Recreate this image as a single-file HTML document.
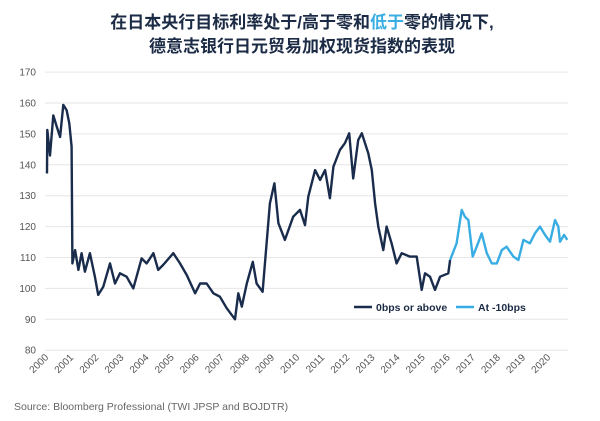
<!DOCTYPE html>
<html><head><meta charset="utf-8">
<style>
html,body{margin:0;padding:0;background:#fff;}
body{width:600px;height:416px;overflow:hidden;font-family:"Liberation Sans","Noto Sans CJK SC",sans-serif;}
</style></head>
<body>
<svg id="chart" width="600" height="416" xmlns="http://www.w3.org/2000/svg">
<g font-family="'Liberation Sans','Noto Sans CJK SC',sans-serif" font-size="17" font-weight="bold" fill="#1b2b45" text-anchor="middle">
<text x="302" y="28">在日本央行目标利率处于/高于零和<tspan fill="#3aaee2">低于</tspan>零的情况下,</text>
<text x="302" y="52">德意志银行日元贸易加权现货指数的表现</text>
</g>
<g id="grid"></g>
<g id="yticks"></g>
<g id="xticks"></g>
<g id="series"></g>
<g font-size="10.5" font-weight="bold" fill="#1b2b45">
<g><line x1="354" y1="307" x2="372" y2="307" stroke="#1a2c4c" stroke-width="2.5"/><text x="376" y="311">0bps or above</text></g>
<g><line x1="456" y1="307" x2="474" y2="307" stroke="#38ade3" stroke-width="2.5"/><text x="478" y="311">At -10bps</text></g>
</g>
<text x="14" y="410" font-size="10.5" fill="#666">Source: Bloomberg Professional (TWI JPSP and BOJDTR)</text>
</svg>
<script>
const yTicks=[80,90,100,110,120,130,140,150,160,170];
const years=[2000,2001,2002,2003,2004,2005,2006,2007,2008,2009,2010,2011,2012,2013,2014,2015,2016,2017,2018,2019,2020];
const darkT=[0,0.01,0.12,0.25,0.39,0.52,0.65,0.78,0.89,0.98,1.01,1.12,1.25,1.38,1.51,1.71,1.91,2.04,2.24,2.51,2.71,2.91,3.17,3.44,3.77,3.97,4.24,4.43,4.63,5.03,5.30,5.57,5.90,6.10,6.36,6.63,6.89,7.16,7.49,7.62,7.76,7.96,8.20,8.35,8.59,8.75,8.88,9.06,9.22,9.48,9.81,10.08,10.28,10.41,10.68,10.88,11.08,11.27,11.41,11.67,11.87,12.04,12.20,12.40,12.54,12.80,12.94,13.07,13.20,13.40,13.53,13.73,13.93,14.13,14.46,14.73,14.93,15.06,15.26,15.46,15.66,15.99,16.06];
const darkV=[137.2,151.3,143,156,152.3,149,159.4,157.7,153.4,145.9,108.1,112.4,106,111.4,105.4,111.4,103.8,97.9,100.5,108.1,101.6,104.9,103.8,100,109.7,108.1,111.4,106,107.6,111.4,108.1,104.3,98.4,101.6,101.6,98.4,97.3,93.6,90,98.4,94.1,101.6,108.6,101.6,98.9,114.6,127.5,134,121.1,115.7,123.2,125.4,120.5,129.7,138.3,135.1,138.3,129.2,139.4,144.8,147,150.2,135.6,148,150.2,143.7,138.3,127.5,120,112.4,120,114.6,108.1,111.4,110.3,110.3,99.5,104.9,103.8,99.5,103.8,104.9,109.2];
const lightT=[16.06,16.32,16.52,16.65,16.79,16.96,17.12,17.32,17.52,17.72,17.92,18.12,18.31,18.58,18.78,18.98,19.24,19.44,19.64,19.84,20.04,20.24,20.37,20.44,20.60,20.73];
const lightV=[109.2,114.6,125.4,123.2,122.1,110.3,113.5,117.8,111.4,108.1,108.1,112.4,113.5,110.3,109.2,115.7,114.6,117.8,120,117.3,115.1,122.1,120,115.1,117.3,115.7];
const NS='http://www.w3.org/2000/svg';
function X(t){return 47+t*25.1;}
function Y(v){return 319.3-(v-90)*3.09;}
function mk(tag,attrs,parent){const e=document.createElementNS(NS,tag);for(const k in attrs)e.setAttribute(k,attrs[k]);parent.appendChild(e);return e;}
const grid=document.getElementById('grid'),yt=document.getElementById('yticks'),xt=document.getElementById('xticks'),ser=document.getElementById('series');
yTicks.forEach(v=>{
  const l=mk('line',{x1:45,x2:568,y1:Y(v),y2:Y(v),stroke:'#e6e6e6','stroke-width':1},grid);
  
  
  const t=mk('text',{x:36,y:Y(v)+3.5,'text-anchor':'end','font-size':10,fill:'#555'},yt);
  t.textContent=v;
  
  
});
years.forEach(y=>{
  const x=X(y-2000);
  const t=mk('text',{x:x+2,y:358,'text-anchor':'end','font-size':10,fill:'#555',transform:'rotate(-45 '+(x+2)+' 358)'},xt);
  t.textContent=y;
  
  
});
function path(ts,vs,color,name){
  const d=ts.map((t,i)=>(i?'L':'M')+X(t).toFixed(1)+' '+Y(vs[i]).toFixed(1)).join(' ');
  const p=mk('path',{d:d,fill:'none',stroke:color,'stroke-width':2.4,'stroke-linejoin':'round'},ser);
  
  
}
path(darkT,darkV,'#1a2c4c','line-0bps-or-above');
path(lightT,lightV,'#38ade3','line-at-minus10bps');
</script>
</body></html>
